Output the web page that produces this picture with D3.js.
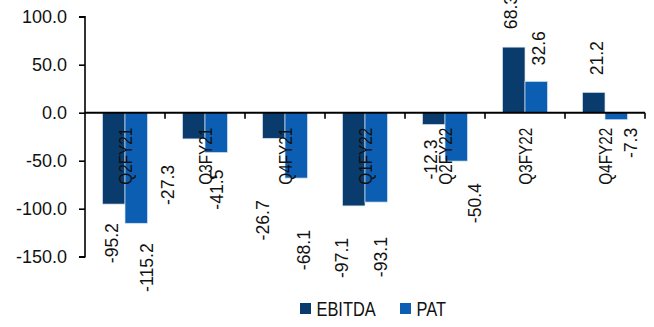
<!DOCTYPE html>
<html>
<head>
<meta charset="utf-8">
<script src="https://cdn.jsdelivr.net/npm/d3@7"></script>
<style>
  html, body { margin: 0; padding: 0; background: #fff; }
  svg { display: block; }
  .num, .narrow { font-family: "Liberation Sans", Arial, sans-serif; fill: #111; }
</style>
</head>
<body>
<svg id="chart" width="654" height="327"></svg>
<script>
// Quarterly EBITDA and PAT (Rs bn)
const categories = ["Q2FY21", "Q3FY21", "Q4FY21", "Q1FY22", "Q2FY22", "Q3FY22", "Q4FY22"];
const seriesNames = ["EBITDA", "PAT"];
const ebitda = [-95.2, -27.3, -26.7, -97.1, -12.3, 68.3, 21.2];
const pat = [-115.2, -41.5, -68.1, -93.1, -50.4, 32.6, -7.3];
const yTicks = [100, 50, 0, -50, -100, -150];
const yTickLabels = ["100.0", "50.0", "0.0", "-50.0", "-100.0", "-150.0"];

// hand-placed data label offsets: [dx from bar centre, gap beyond bar end] in px
const labelNudge = {
  EBITDA: [[-2, 19], [-26, 26], [-11, 62], [-12, 32], [-3, 15], [-3, 18], [3, 17]],
  PAT:    [[10, 20], [0, 17], [7, 52], [4, 35], [18, 22], [2, 16], [14, 8]]
};

const colors = { EBITDA: "#0a3b6d", PAT: "#0b5eb2" };
const condense = 0.82; // horizontal squeeze for the narrow-style text

const rows = categories.map((c, i) => ({ cat: c, EBITDA: ebitda[i], PAT: pat[i] }));

const svg = d3.select("#chart");
const plot = { left: 85, right: 645, top: 16.7, bottom: 256.7 };

const x0 = d3.scaleBand().domain(categories).range([plot.left, plot.right]).padding(0);
const x1 = d3.scaleBand().domain(seriesNames).range([0, x0.bandwidth()])
  .paddingInner(0).paddingOuter(0.78);
const y = d3.scaleLinear().domain([-150, 100]).range([plot.bottom, plot.top]);

const fmt = d3.formatLocale({ decimal: ".", thousands: ",", grouping: [3], currency: ["", ""], minus: "-" }).format(".1f");

// bars
const groups = svg.append("g").selectAll("g").data(rows).join("g")
  .attr("transform", d => `translate(${x0(d.cat)},0)`);

groups.selectAll("rect")
  .data(d => seriesNames.map(s => ({ s, v: d[s] })))
  .join("rect")
  .attr("x", d => x1(d.s))
  .attr("width", x1.bandwidth())
  .attr("y", d => y(Math.max(0, d.v)))
  .attr("height", d => Math.abs(y(d.v) - y(0)))
  .attr("fill", d => colors[d.s])
  .attr("stroke", "#d6e4f3")
  .attr("stroke-width", 0.7);

// y axis
const yAxis = d3.axisLeft(y).tickValues(yTicks)
  .tickFormat((d, i) => yTickLabels[i]).tickSize(6).tickPadding(12);
const yg = svg.append("g").attr("transform", `translate(${plot.left},0)`).call(yAxis);
yg.attr("font-family", null).attr("font-size", null);
yg.select(".domain").attr("stroke", "#000").attr("stroke-width", 1.6)
  .attr("d", `M-6,${plot.top}H0V${plot.bottom}H-6`);
yg.selectAll(".tick line").attr("stroke", "#000").attr("stroke-width", 1.6);
yg.selectAll(".tick text").attr("class", "num").style("font-size", "18px").attr("fill", "#111");

// category axis along zero
const xg = svg.append("g").attr("transform", `translate(0,${y(0)})`)
  .call(d3.axisBottom(x0).tickSize(0).tickFormat(""));
xg.selectAll(".tick").remove();
xg.select(".domain").attr("stroke", "#000").attr("stroke-width", 2)
  .attr("d", `M${plot.left},0H${plot.right}`);
xg.selectAll("line.sep")
  .data(categories)
  .join("line")
  .attr("class", "sep")
  .attr("x1", d => x0(d) + x0.bandwidth()).attr("x2", d => x0(d) + x0.bandwidth())
  .attr("y1", 0).attr("y2", 6)
  .attr("stroke", "#000").attr("stroke-width", 1.6);

// category labels, rotated
svg.append("g").selectAll("text").data(categories).join("text")
  .attr("class", "narrow")
  .attr("transform", d => `translate(${x0(d) + x0.bandwidth() / 2},${y(0) + 72}) rotate(-90) scale(${condense},1)`)
  .attr("dy", "0.36em")
  .attr("text-anchor", "start")
  .style("font-size", "18.7px")
  .text(d => d);

// value labels, rotated
const labelData = [];
rows.forEach((r, i) => {
  seriesNames.forEach(s => {
    const v = r[s];
    const [dx, gap] = labelNudge[s][i];
    const cx = x0(r.cat) + x1(s) + x1.bandwidth() / 2 + dx;
    const end = y(v);
    labelData.push({ v, cx, cy: v < 0 ? end + gap : end - gap });
  });
});
svg.append("g").selectAll("text").data(labelData).join("text")
  .attr("class", "num")
  .attr("transform", d => `translate(${d.cx},${d.cy}) rotate(-90)`)
  .attr("dy", "0.36em")
  .attr("text-anchor", d => d.v < 0 ? "end" : "start")
  .style("font-size", "17.6px")
  .text(d => fmt(d.v));

// legend
const legend = svg.append("g").attr("transform", "translate(300,303)");
const items = legend.selectAll("g").data(seriesNames).join("g")
  .attr("transform", (d, i) => `translate(${i * 100},0)`);
items.append("rect").attr("width", 11).attr("height", 11).attr("fill", d => colors[d]);
items.append("text").attr("class", "narrow")
  .attr("transform", `translate(16.5,12.7) scale(${condense},1)`)
  .style("font-size", "20px")
  .text(d => d);
</script>
</body>
</html>
